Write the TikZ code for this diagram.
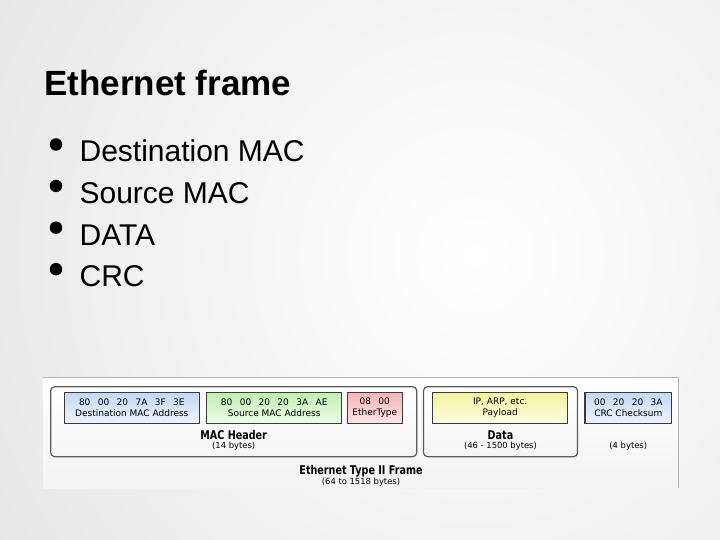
\documentclass[tikz,border=0pt]{standalone}
\usepackage{fontspec}
\setmainfont{Liberation Sans}
\newfontfamily\diagfont{DejaVu Sans}
\newfontfamily\tagfont[FakeStretch=0.8]{DejaVu Sans}
\usepackage{xcolor}
\usepackage{tikz}
\definecolor{SlideGray}{HTML}{D6D6D6}
\definecolor{PanelEdge}{HTML}{B4B4B4}
\definecolor{BoxEdge}{HTML}{3A3A3A}
\definecolor{GroupEdge}{HTML}{5A5A5A}
\definecolor{BlueTop}{HTML}{C2D8F5}
\definecolor{BlueBot}{HTML}{EDF4FE}
\definecolor{GreenTop}{HTML}{C0EFB2}
\definecolor{GreenBot}{HTML}{EDFDE7}
\definecolor{RedTop}{HTML}{F4B4B4}
\definecolor{RedBot}{HTML}{FDE6E6}
\definecolor{YellowTop}{HTML}{F2F29C}
\definecolor{YellowBot}{HTML}{FDFDE4}
\newcommand{\gap}{\hspace{7.4pt}}

\begin{document}
\begin{tikzpicture}[
    x=1pt, y=-1pt,
    field/.style={draw=BoxEdge, line width=1.2pt, minimum height=31pt, inner sep=0pt,
                  align=center, font=\diagfont\fontsize{9}{11}\selectfont},
    group/.style={draw=GroupEdge, line width=1.2pt, rounded corners=4pt, minimum height=70pt,
                  top color=white, bottom color=black!4},
    tag/.style={font=\tagfont\bfseries\fontsize{12}{14}\selectfont, inner sep=0pt},
    bytes/.style={font=\diagfont\fontsize{8.4}{10}\selectfont, inner sep=0pt},
    item/.style={anchor=base west, font=\fontsize{30}{36}\selectfont, inner sep=0pt},
    dot/.style={circle, fill=black, minimum size=12.5pt, inner sep=0pt}
]
% slide background
\useasboundingbox (0,0) rectangle (720,540);
\begin{scope}
  \clip (0,0) rectangle (720,540);
  \fill[inner color=white, outer color=SlideGray] (475,255) circle (960);
\end{scope}

% title and bullet list
\node[anchor=base west, font=\bfseries\fontsize{35}{42}\selectfont, inner sep=0pt] (title) at (44,95.7) {Ethernet frame};
\node[item] (it1) at (79.4,161.8) {Destination MAC};
\node[item] (it2) at (79.4,203.2) {Source MAC};
\node[item] (it3) at (79.4,245.0) {DATA};
\node[item] (it4) at (79.4,286.5) {CRC};
\node[dot] (b1) at (56,144.5) {};
\node[dot] (b2) at (56,185.9) {};
\node[dot] (b3) at (56,227.7) {};
\node[dot] (b4) at (56,269.2) {};

% frame picture panel
\node[minimum width=635pt, minimum height=110pt, inner sep=0pt, top color=white, bottom color=black!5] (panel) at (360.5,433) {};
\draw[PanelEdge, line width=0.8pt] (panel.north west) -- (panel.north east) -- (panel.south east);

% groups
\node[group, minimum width=366pt] (hdr) at (233.7,421.7) {};
\node[group, minimum width=154pt] (data) at (500.5,421.7) {};

% fields
\node[field, minimum width=135pt, top color=BlueTop, bottom color=BlueBot] (dst) at (131.8,407.8) {80\gap 00\gap 20\gap 7A\gap 3F\gap 3E\\Destination MAC Address};
\node[field, minimum width=135pt, top color=GreenTop, bottom color=GreenBot] (src) at (274.2,407.8) {80\gap 00\gap 20\gap 20\gap 3A\gap AE\\Source MAC Address};
\node[field, minimum width=55pt, top color=RedTop, bottom color=RedBot] (etype) at (374.8,407.8) {08\gap 00\\EtherType};
\node[field, minimum width=135pt, top color=YellowTop, bottom color=YellowBot] (payload) at (500.2,407.8) {IP, ARP, etc.\\Payload};
\node[field, minimum width=86.7pt, top color=BlueTop, bottom color=BlueBot] (crc) at (628.3,407.8) {00\gap 20\gap 20\gap 3A\\CRC Checksum};

% labels
\node[tag] (hdrtag) at (233.7,435) {MAC Header};
\node[bytes] (hdrlen) at (233.7,446) {(14 bytes)};
\node[tag] (datatag) at (500.5,435) {Data};
\node[bytes] (datalen) at (500.5,446) {(46 - 1500 bytes)};
\node[bytes] (crclen) at (628.3,446) {(4 bytes)};
\node[tag] (frametag) at (361,471.5) {Ethernet Type II Frame};
\node[bytes] (framelen) at (361,482.3) {(64 to 1518 bytes)};
\end{tikzpicture}
\end{document}
